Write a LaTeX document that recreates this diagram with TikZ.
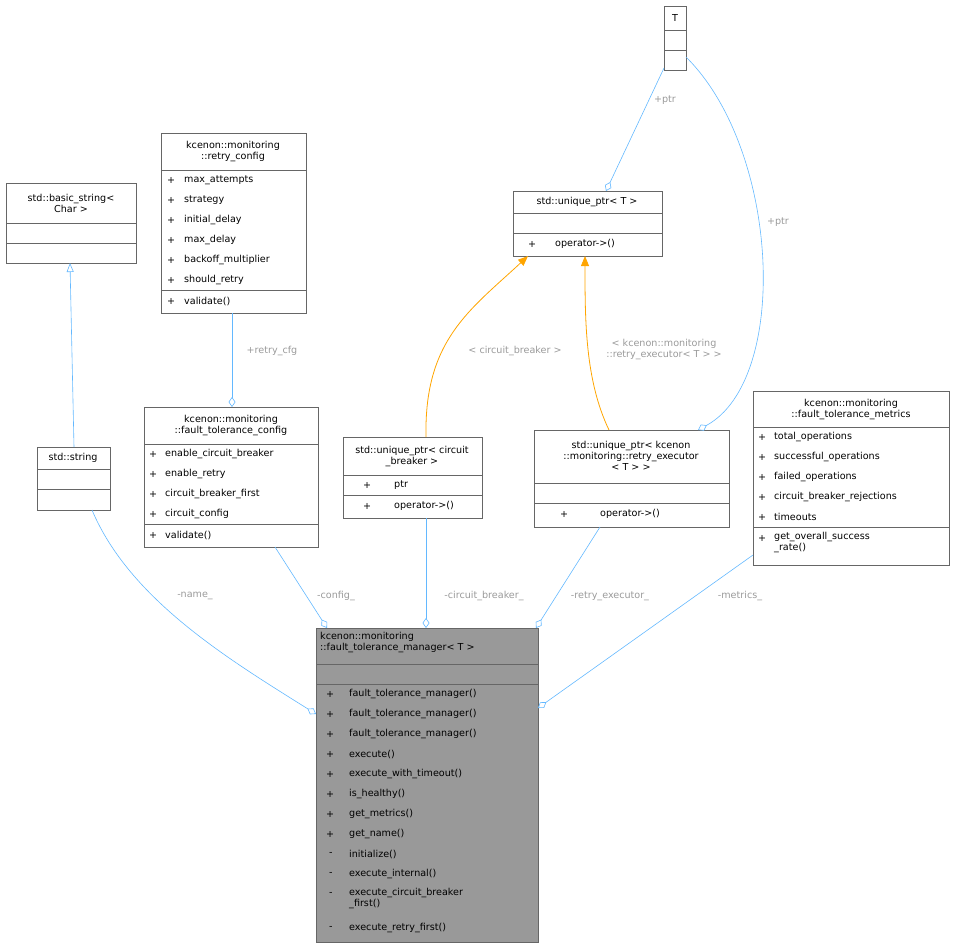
\documentclass[tikz,border=0pt]{standalone}
\usepackage{fontspec}
\setmainfont{DejaVu Sans}
\usetikzlibrary{arrows.meta}
\definecolor{edgeblue}{HTML}{63B8FF}
\definecolor{edgeorange}{HTML}{FFA500}
\definecolor{lblgray}{HTML}{9A9A9A}
\definecolor{boxline}{HTML}{666666}
\tikzset{
  box/.style={draw=boxline, line width=0.6pt},
  txt/.style={inner sep=0pt, font=\fontsize{9.6}{11}\selectfont, align=center},
  mem/.style={txt, anchor=west},
  lbl/.style={inner sep=0pt, font=\fontsize{9.6}{11}\selectfont, text=lblgray, align=center},
  agg/.style={draw=edgeblue, line width=0.6pt, -{Diamond[open,fill=white,length=10pt,width=7pt]}},
  inh/.style={draw=edgeblue, line width=0.6pt, -{Triangle[open,fill=white,length=9pt,width=7pt]}},
  tpl/.style={draw=edgeorange, line width=0.8pt, -{Triangle[length=10pt,width=8pt]}},
}
% box: name, left, top, right, bottom, fill
\newcommand{\umlbox}[6]{%
  \path[box, fill=#6] (#2,#3) rectangle (#4,#5);
  \coordinate (#1) at ({(#2+#4)/2},{(#3+#5)/2});}
\newcommand{\sep}[3]{\draw[box] (#1,#3) -- (#2,#3);}
\begin{document}
\begin{tikzpicture}[x=1pt,y=-1pt]
\useasboundingbox (0,0) rectangle (955,948);
% T
\umlbox{t}{664}{6}{686}{70}{white}
\sep{664}{686}{30}\sep{664}{686}{50}
\node[txt] (tt) at (675,18) {T};
% unique_ptr<T>
\umlbox{up}{513}{191}{662}{256}{white}
\sep{513}{662}{213}\sep{513}{662}{233}
\node[txt] at (587,202) {std::unique\_ptr< T >};
\node[mem] at (528,244) {+};
\node[mem] at (555,244) {operator->()};
% basic_string
\umlbox{bs}{6}{183}{136}{263}{white}
\sep{6}{136}{223}\sep{6}{136}{243}
\node[txt] at (71,203) {std::basic\_string<\\Char >};
% retry_config
\umlbox{rc}{161}{133}{306}{313}{white}
\sep{161}{306}{170}\sep{161}{306}{290}
\node[txt] at (233,151) {kcenon::monitoring\\::retry\_config};
\foreach \n [count=\i] in {max\_attempts,strategy,initial\_delay,max\_delay,backoff\_multiplier,should\_retry}{
  \node[mem] at (167,160+20*\i) {+};
  \node[mem] at (184,160+20*\i) {\n};}
\node[mem] at (167,301) {+};
\node[mem] at (184,301) {validate()};
% std::string
\umlbox{ss}{37}{447}{110}{510}{white}
\sep{37}{110}{469}\sep{37}{110}{489}
\node[txt] at (73,458) {std::string};
% fault_tolerance_config
\umlbox{ftc}{144}{407}{318}{547}{white}
\sep{144}{318}{444}\sep{144}{318}{524}
\node[txt] at (231,425) {kcenon::monitoring\\::fault\_tolerance\_config};
\foreach \n [count=\i] in {enable\_circuit\_breaker,enable\_retry,circuit\_breaker\_first,circuit\_config}{
  \node[mem] at (149,434+20*\i) {+};
  \node[mem] at (165,434+20*\i) {\n};}
\node[mem] at (149,535) {+};
\node[mem] at (165,535) {validate()};
% unique_ptr<circuit_breaker>
\umlbox{ucb}{343}{437}{482}{518}{white}
\sep{343}{482}{475}\sep{343}{482}{495}
\node[txt] at (412,456) {std::unique\_ptr< circuit\\\_breaker >};
\node[mem] at (363,485) {+};
\node[mem] at (394,485) {ptr};
\node[mem] at (363,506) {+};
\node[mem] at (394,506) {operator->()};
% unique_ptr<retry_executor>
\umlbox{ure}{534}{430}{729}{527}{white}
\sep{534}{729}{483}\sep{534}{729}{503}
\node[txt] at (631,456) {std::unique\_ptr< kcenon\\::monitoring::retry\_executor\\< T > >};
\node[mem] at (560,514) {+};
\node[mem] at (600,514) {operator->()};
% fault_tolerance_metrics
\umlbox{ftm}{753}{391}{949}{565}{white}
\sep{753}{949}{427}\sep{753}{949}{527}
\node[txt] at (851,409) {kcenon::monitoring\\::fault\_tolerance\_metrics};
\foreach \n [count=\i] in {total\_operations,successful\_operations,failed\_operations,circuit\_breaker\_rejections,timeouts}{
  \node[mem] at (758,417+20*\i) {+};
  \node[mem] at (774,417+20*\i) {\n};}
\node[mem] at (758,538) {+};
\node[txt, anchor=north west, align=left] at (774,532) {get\_overall\_success\\\_rate()};
% fault_tolerance_manager
\umlbox{ftmgr}{316}{628}{538}{942}{black!40}
\sep{316}{538}{664}\sep{316}{538}{684}
\node[txt, anchor=north west, align=left] at (320,632) {kcenon::monitoring\\::fault\_tolerance\_manager< T >};
\foreach \n [count=\i] in {fault\_tolerance\_manager(),fault\_tolerance\_manager(),fault\_tolerance\_manager(),execute(),execute\_with\_timeout(),is\_healthy(),get\_metrics(),get\_name()}{
  \node[mem] at (326,674+20*\i) {+};
  \node[mem] at (349,674+20*\i) {\n};}
\node[mem] at (329,854) {-};
\node[mem] at (349,854) {initialize()};
\node[mem] at (329,874) {-};
\node[mem] at (349,874) {execute\_internal()};
\node[mem] at (329,894) {-};
\node[txt, anchor=north west, align=left] at (349,888) {execute\_circuit\_breaker\\\_first()};
\node[mem] at (329,928) {-};
\node[mem] at (349,928) {execute\_retry\_first()};
% connectors
\coordinate (tBot) at (664,68);
\coordinate (tRight) at (686,57);
\coordinate (upTop) at (606,191);
\coordinate (upB1) at (528,256);
\coordinate (upB2) at (585,256);
\coordinate (ureTop) at (698,430);
\draw[agg] (tBot) -- (upTop);
\node[lbl] at (665,100) {+ptr};
\draw[agg] (tRight) .. controls (780,150) and (790,380) .. (ureTop);
\node[lbl] at (778,222) {+ptr};
\draw[inh] (74,447) -- (70,263);
\draw[agg] (232,313) -- (232,407);
\node[lbl] at (272,351) {+retry\_cfg};
\draw[tpl] (426,437) .. controls (424,340) and (470,310) .. (upB1);
\node[lbl] at (515,351) {< circuit\_breaker >};
\draw[tpl] (609,430) .. controls (585,380) and (585,320) .. (upB2);
\node[lbl] at (664,349) {< kcenon::monitoring\\::retry\_executor< T > >};
\draw[agg] (92,510) .. controls (130,600) and (230,660) .. (316,714);
\node[lbl] at (195,596) {-name\_};
\draw[agg] (275,547) -- (327,628);
\node[lbl] at (336,596) {-config\_};
\draw[agg] (426,518) -- (426,628);
\node[lbl] at (484,596) {-circuit\_breaker\_};
\draw[agg] (600,527) -- (536,628);
\node[lbl] at (610,596) {-retry\_executor\_};
\draw[agg] (753,555) -- (538,708);
\node[lbl] at (740,596) {-metrics\_};
\end{tikzpicture}
\end{document}
